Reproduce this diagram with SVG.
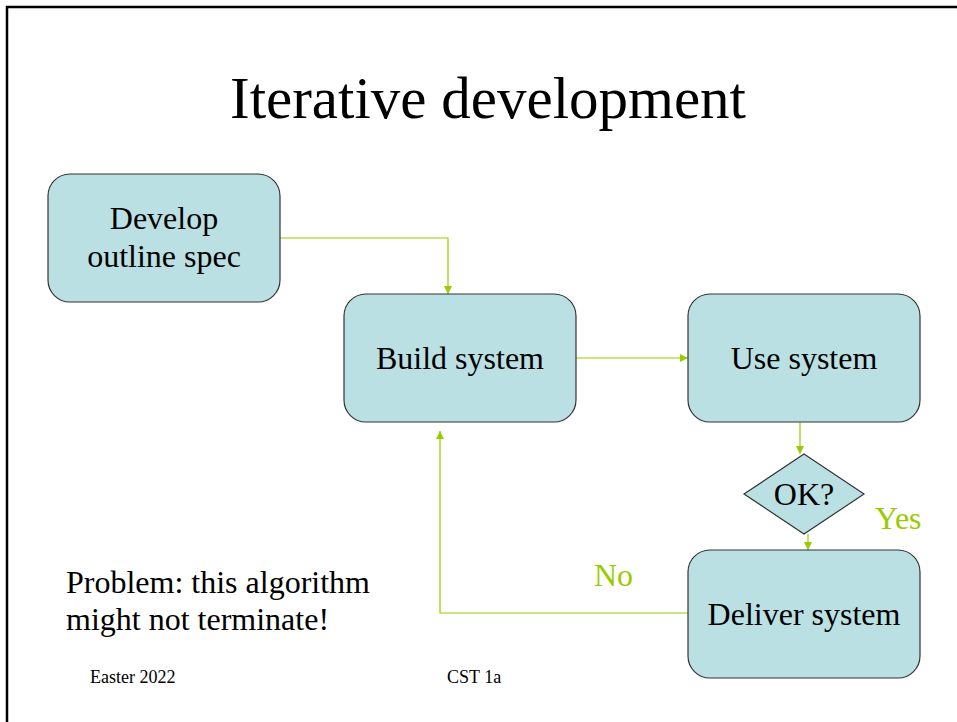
<svg xmlns="http://www.w3.org/2000/svg" width="957" height="722" viewBox="0 0 957 722">
<style>
.box{fill:#bbe0e3;stroke:#333;stroke-width:1.2}
.t{font-family:"Liberation Serif","Times New Roman",serif;fill:#000}
.lbl{font-size:32px;text-anchor:middle}
.g{font-family:"Liberation Serif","Times New Roman",serif;fill:#99cc00;font-size:32px}
.c{fill:none;stroke:#99cc00;stroke-width:1.2}
</style>
<defs>
<marker id="ah" viewBox="0 0 10 10" refX="10" refY="5" markerWidth="8" markerHeight="8" markerUnits="userSpaceOnUse" orient="auto">
<path d="M0,0 L10,5 L0,10 z" fill="#99cc00"/>
</marker>
</defs>
<rect width="957" height="722" fill="#fff"/>
<path d="M7,722 V7 H957" fill="none" stroke="#000" stroke-width="2.5"/>
<text class="t" x="488" y="118" font-size="59" text-anchor="middle">Iterative development</text>
<g id="connectors">
<path class="c" d="M280,238 H448 V294" marker-end="url(#ah)"/>
<path class="c" d="M576,358 H688" marker-end="url(#ah)"/>
<path class="c" d="M800,422 V454" marker-end="url(#ah)"/>
<path class="c" d="M808,534 V550" marker-end="url(#ah)"/>
<path class="c" d="M688,613 H440 V431" marker-end="url(#ah)"/>
</g>
<g id="develop">
<rect class="box" x="48" y="174" width="232" height="128" rx="22"/>
<text class="t lbl" x="164" y="229">Develop</text>
<text class="t lbl" x="164" y="267">outline spec</text>
</g>
<g id="build">
<rect class="box" x="344" y="294" width="232" height="128" rx="22"/>
<text class="t lbl" x="460" y="369">Build system</text>
</g>
<g id="use">
<rect class="box" x="688" y="294" width="232" height="128" rx="22"/>
<text class="t lbl" x="804" y="369">Use system</text>
</g>
<g id="ok">
<polygon class="box" points="804,454 864,494 804,534 744,494"/>
<text class="t lbl" x="804" y="505">OK?</text>
</g>
<g id="deliver">
<rect class="box" x="688" y="550" width="232" height="128" rx="22"/>
<text class="t lbl" x="804" y="625">Deliver system</text>
</g>
<text class="g" x="875" y="529">Yes</text>
<text class="g" x="594" y="586">No</text>
<text class="t" x="66" y="593" font-size="32">Problem: this algorithm</text>
<text class="t" x="66" y="630" font-size="32">might not terminate!</text>
<text class="t" x="90" y="683" font-size="18">Easter 2022</text>
<text class="t" x="447" y="683" font-size="18">CST 1a</text>
</svg>
